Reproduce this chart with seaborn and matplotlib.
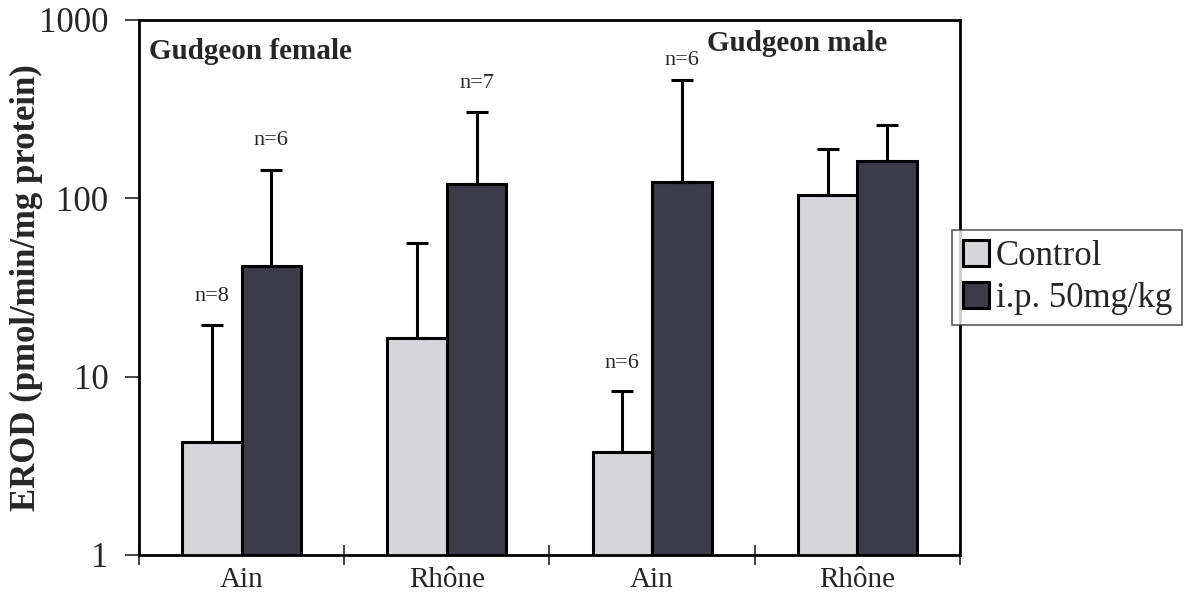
import matplotlib
matplotlib.use("Agg")
import matplotlib.pyplot as plt
import seaborn as sns
import pandas as pd
import numpy as np

# Groups along the x axis (female Ain, female Rhône, male Ain, male Rhône)
groups = ["F-Ain", "F-Rhone", "M-Ain", "M-Rhone"]
site_labels = ["Ain", "Rhône", "Ain", "Rhône"]
treatments = ["Control", "i.p. 50mg/kg"]

# EROD activity (pmol/min/mg protein): mean and mean + SD
control_mean = [4.3, 16.5, 3.8, 104]
control_upper = [19.4, 56, 8.3, 190]
treated_mean = [42, 121, 124, 161]
treated_upper = [145, 303, 459, 259]

# sample sizes written above the error bars
control_n = ["n=8", "", "n=6", ""]
treated_n = ["n=6", "n=7", "n=6", ""]

sns.set_style("ticks")
plt.rcParams["font.family"] = ["Liberation Serif", "DejaVu Serif"]

df = pd.DataFrame({
    "group": groups * 2,
    "treatment": [treatments[0]] * 4 + [treatments[1]] * 4,
    "erod": control_mean + treated_mean,
})

fig = plt.figure(figsize=(11.86, 5.97), dpi=100)
ax = fig.add_axes([0.1172, 0.0704, 0.6922, 0.8961])
ax.set_yscale("log")

light = "#d6d6da"
dark = "#3b3b49"
sns.barplot(data=df, x="group", y="erod", hue="treatment", order=groups,
            hue_order=treatments, palette=[light, dark], width=0.58,
            saturation=1, edgecolor="black", linewidth=2.2, errorbar=None,
            ax=ax)

means = [control_mean, treated_mean]
uppers = [control_upper, treated_upper]
labels = [control_n, treated_n]
# vertical gap (points) between each cap and its sample-size label
label_gaps = [[21, 21, 20, 21], [21, 21, 14, 21]]
for container, m, u, nl, gaps in zip(ax.containers, means, uppers, labels,
                                     label_gaps):
    xs = [p.get_x() + p.get_width() / 2 for p in container]
    m = np.asarray(m, float)
    u = np.asarray(u, float)
    ax.errorbar(xs, m, yerr=[np.zeros_like(m), u - m], fmt="none",
                ecolor="black", elinewidth=2.2, capsize=8, capthick=2.2,
                zorder=1)
    for x, top, txt, g in zip(xs, u, nl, gaps):
        if txt:
            ax.annotate(txt, (x, top), xytext=(0, g),
                        textcoords="offset points", ha="center",
                        va="center", fontsize=16)

ax.set_ylim(1, 1000)
ax.set_xlim(-0.5, 3.5)
ax.set_yticks([1, 10, 100, 1000])
ax.set_yticklabels(["1", "10", "100", "1000"])
ax.yaxis.set_minor_locator(matplotlib.ticker.NullLocator())
ax.tick_params(axis="y", which="major", direction="out", length=10,
               width=1.2, labelsize=25, pad=12)

ax.set_xticks(range(len(groups)))
ax.set_xticklabels(site_labels)
ax.set_xticks([-0.5, 0.5, 1.5, 2.5, 3.5], minor=True)
ax.tick_params(axis="x", which="major", length=0, labelsize=21, pad=9)
ax.tick_params(axis="x", which="minor", direction="inout", length=14,
               width=1.2)

ax.set_xlabel("")
ax.set_ylabel("EROD (pmol/min/mg protein)", fontsize=25,
              fontweight="bold")
ax.yaxis.set_label_coords(-0.117, 0.5)

for side in ["left", "right", "top", "bottom"]:
    ax.spines[side].set_visible(True)
    ax.spines[side].set_linewidth(2.0)
    ax.spines[side].set_color("black")

ax.text(0.012, 0.966, "Gudgeon female", transform=ax.transAxes,
        fontsize=21, fontweight="bold", va="top", ha="left")
ax.text(0.692, 0.981, "Gudgeon male", transform=ax.transAxes,
        fontsize=21, fontweight="bold", va="top", ha="left")

handles, lbls = ax.get_legend_handles_labels()
ax.legend_.remove()
leg = fig.legend(handles, lbls, loc="upper left",
                 bbox_to_anchor=(0.803, 0.615), borderaxespad=0,
                 fontsize=25, frameon=True, fancybox=False,
                 handlelength=0.75, handleheight=0.75, handletextpad=0.2,
                 borderpad=0.3, labelspacing=0.25)
leg.get_frame().set_edgecolor("#333333")
leg.get_frame().set_linewidth(1.2)
leg.set_zorder(5)

fig.savefig("out.png", dpi=100)
